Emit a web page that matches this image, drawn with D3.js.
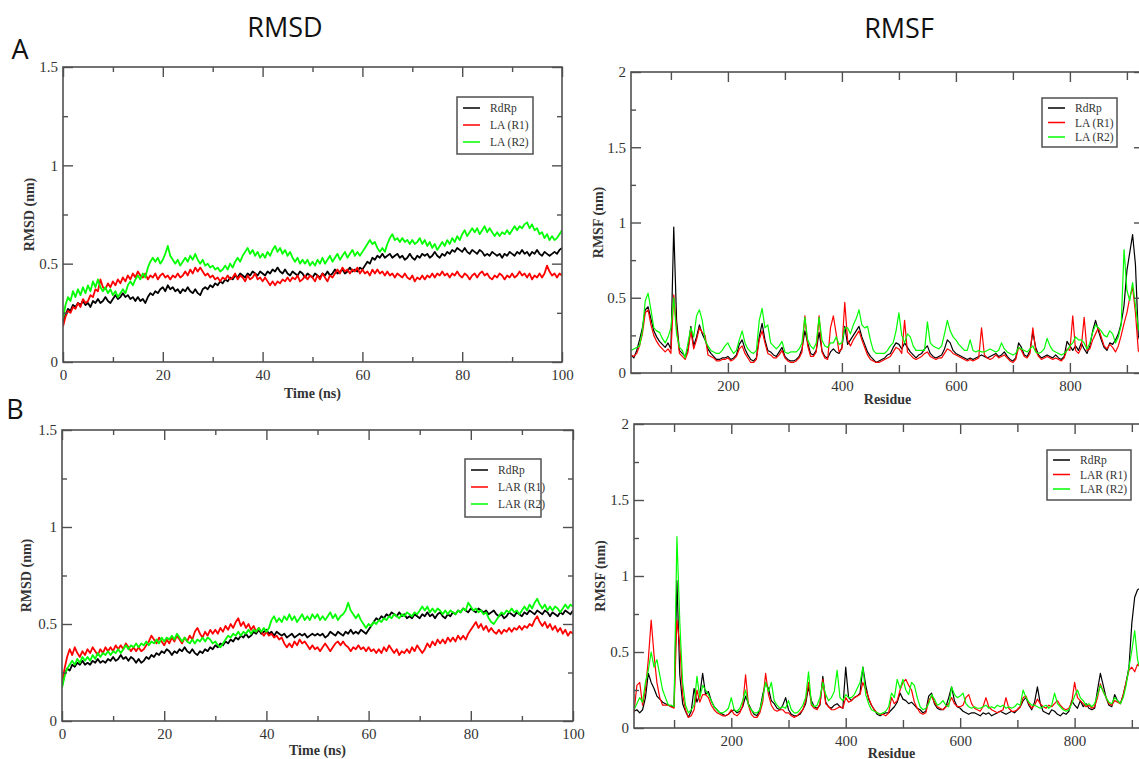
<!DOCTYPE html>
<html>
<head>
<meta charset="utf-8">
<style>
  body { margin: 0; background: #ffffff; }
  svg { display: block; }
</style>
</head>
<body>
<script src="https://d3js.org/d3.v7.min.js"></script>
<script>
// ---------- data ----------
// RMSD: one value every 0.5 ns, 0..100 ns
const TIME_START = 0;
const TIME_STEP = 0.5;

const RMSD_A_RDRP = [
  0.20,0.24,0.27,0.26,0.29,0.28,0.30,0.29,0.31,0.29,
  0.30,0.28,0.31,0.30,0.32,0.30,0.31,0.33,0.31,0.30,
  0.32,0.34,0.32,0.33,0.35,0.33,0.34,0.32,0.33,0.31,
  0.33,0.31,0.32,0.30,0.33,0.35,0.34,0.36,0.35,0.37,
  0.38,0.36,0.39,0.37,0.38,0.36,0.37,0.35,0.37,0.36,
  0.38,0.36,0.35,0.37,0.35,0.34,0.37,0.38,0.37,0.39,
  0.38,0.40,0.39,0.41,0.40,0.42,0.41,0.43,0.42,0.44,
  0.43,0.45,0.44,0.43,0.45,0.44,0.46,0.45,0.44,0.46,
  0.45,0.44,0.46,0.45,0.47,0.46,0.48,0.46,0.45,0.47,
  0.45,0.44,0.46,0.45,0.44,0.46,0.45,0.43,0.45,0.44,
  0.43,0.45,0.44,0.43,0.45,0.44,0.46,0.44,0.45,0.47,
  0.45,0.46,0.47,0.45,0.46,0.48,0.46,0.47,0.46,0.48,
  0.47,0.49,0.51,0.50,0.53,0.52,0.54,0.53,0.55,0.53,
  0.54,0.55,0.53,0.54,0.55,0.53,0.54,0.52,0.53,0.55,
  0.53,0.52,0.54,0.53,0.55,0.54,0.55,0.53,0.54,0.56,
  0.54,0.53,0.55,0.54,0.56,0.55,0.57,0.56,0.58,0.57,
  0.56,0.58,0.56,0.55,0.57,0.56,0.55,0.57,0.56,0.54,
  0.55,0.54,0.56,0.55,0.54,0.55,0.53,0.55,0.54,0.56,
  0.55,0.54,0.56,0.55,0.57,0.55,0.56,0.54,0.56,0.55,
  0.57,0.55,0.54,0.56,0.55,0.54,0.55,0.56,0.55,0.57,
  0.58];
const RMSD_A_LA_R1 = [
  0.18,0.23,0.26,0.25,0.28,0.27,0.30,0.28,0.32,0.30,
  0.31,0.34,0.33,0.37,0.36,0.42,0.38,0.37,0.40,0.38,
  0.41,0.39,0.42,0.40,0.43,0.41,0.44,0.42,0.45,0.43,
  0.46,0.44,0.43,0.45,0.42,0.44,0.43,0.45,0.42,0.44,
  0.45,0.43,0.44,0.42,0.44,0.43,0.45,0.43,0.44,0.46,
  0.44,0.47,0.45,0.48,0.46,0.48,0.46,0.44,0.45,0.43,
  0.44,0.42,0.43,0.41,0.43,0.42,0.44,0.42,0.43,0.45,
  0.42,0.44,0.43,0.41,0.44,0.42,0.43,0.45,0.42,0.43,
  0.41,0.43,0.41,0.39,0.41,0.39,0.41,0.40,0.42,0.41,
  0.43,0.41,0.43,0.42,0.44,0.41,0.42,0.44,0.42,0.44,
  0.43,0.41,0.44,0.42,0.45,0.43,0.41,0.44,0.43,0.45,
  0.47,0.45,0.48,0.46,0.47,0.45,0.47,0.46,0.48,0.45,
  0.47,0.45,0.46,0.44,0.47,0.45,0.47,0.45,0.46,0.44,
  0.46,0.44,0.45,0.43,0.45,0.44,0.43,0.45,0.43,0.42,
  0.44,0.41,0.43,0.42,0.44,0.42,0.44,0.43,0.45,0.43,
  0.45,0.44,0.46,0.44,0.45,0.43,0.45,0.44,0.46,0.44,
  0.43,0.45,0.44,0.42,0.44,0.45,0.43,0.45,0.46,0.44,
  0.45,0.43,0.42,0.44,0.43,0.45,0.44,0.42,0.44,0.43,
  0.45,0.43,0.44,0.46,0.44,0.45,0.43,0.45,0.42,0.44,
  0.43,0.45,0.43,0.45,0.49,0.46,0.44,0.45,0.43,0.45,
  0.44];
const RMSD_A_LA_R2 = [
  0.22,0.29,0.33,0.31,0.36,0.33,0.37,0.34,0.38,0.35,
  0.39,0.36,0.41,0.38,0.42,0.38,0.36,0.38,0.35,0.37,
  0.34,0.36,0.33,0.35,0.37,0.35,0.39,0.41,0.39,0.42,
  0.44,0.42,0.45,0.43,0.48,0.51,0.53,0.51,0.53,0.50,
  0.52,0.55,0.59,0.54,0.52,0.50,0.52,0.49,0.51,0.53,
  0.51,0.54,0.52,0.55,0.52,0.50,0.52,0.49,0.50,0.48,
  0.49,0.47,0.48,0.46,0.47,0.49,0.47,0.50,0.48,0.51,
  0.53,0.51,0.54,0.56,0.58,0.55,0.57,0.54,0.56,0.53,
  0.55,0.53,0.56,0.54,0.57,0.59,0.56,0.58,0.55,0.57,
  0.54,0.56,0.53,0.51,0.53,0.50,0.52,0.50,0.52,0.49,
  0.51,0.49,0.52,0.50,0.53,0.50,0.52,0.54,0.51,0.53,
  0.55,0.52,0.54,0.56,0.53,0.55,0.57,0.54,0.56,0.54,
  0.56,0.58,0.60,0.62,0.60,0.61,0.58,0.56,0.58,0.56,
  0.60,0.63,0.65,0.62,0.63,0.61,0.63,0.61,0.62,0.60,
  0.62,0.60,0.61,0.63,0.60,0.62,0.59,0.61,0.58,0.60,
  0.57,0.59,0.61,0.59,0.62,0.60,0.63,0.61,0.64,0.62,
  0.65,0.67,0.64,0.66,0.68,0.66,0.68,0.65,0.67,0.69,
  0.66,0.68,0.66,0.64,0.66,0.64,0.66,0.65,0.67,0.65,
  0.67,0.69,0.67,0.69,0.68,0.70,0.71,0.68,0.70,0.67,
  0.68,0.65,0.66,0.63,0.65,0.62,0.64,0.62,0.63,0.65,
  0.67];

const RMSD_B_RDRP = [
  0.18,0.24,0.27,0.26,0.29,0.28,0.30,0.29,0.31,0.29,
  0.30,0.29,0.31,0.30,0.32,0.30,0.31,0.30,0.32,0.31,
  0.33,0.31,0.32,0.34,0.32,0.33,0.31,0.33,0.32,0.30,
  0.32,0.30,0.31,0.33,0.32,0.34,0.33,0.35,0.34,0.36,
  0.35,0.37,0.36,0.34,0.36,0.35,0.37,0.36,0.38,0.36,
  0.35,0.37,0.35,0.34,0.36,0.35,0.37,0.36,0.38,0.37,
  0.39,0.38,0.40,0.39,0.41,0.40,0.42,0.41,0.43,0.42,
  0.44,0.43,0.45,0.43,0.44,0.46,0.45,0.47,0.45,0.46,
  0.47,0.45,0.46,0.44,0.46,0.45,0.44,0.45,0.43,0.44,
  0.45,0.43,0.44,0.45,0.44,0.45,0.43,0.44,0.45,0.44,
  0.45,0.44,0.45,0.43,0.44,0.46,0.45,0.44,0.46,0.45,
  0.44,0.46,0.45,0.47,0.45,0.46,0.45,0.47,0.46,0.45,
  0.47,0.49,0.51,0.53,0.52,0.54,0.53,0.55,0.54,0.56,
  0.55,0.54,0.56,0.54,0.55,0.53,0.54,0.53,0.55,0.54,
  0.53,0.55,0.54,0.56,0.54,0.55,0.53,0.55,0.56,0.54,
  0.53,0.55,0.54,0.56,0.55,0.57,0.56,0.58,0.57,0.56,
  0.58,0.57,0.56,0.58,0.57,0.56,0.57,0.55,0.56,0.57,
  0.55,0.54,0.55,0.53,0.54,0.56,0.55,0.54,0.56,0.55,
  0.54,0.56,0.55,0.57,0.56,0.55,0.57,0.56,0.55,0.57,
  0.56,0.54,0.56,0.55,0.54,0.56,0.55,0.57,0.56,0.55,
  0.57];
const RMSD_B_LAR_R1 = [
  0.20,0.27,0.33,0.37,0.34,0.38,0.35,0.33,0.36,0.34,
  0.37,0.35,0.38,0.36,0.34,0.37,0.35,0.38,0.36,0.38,
  0.36,0.39,0.37,0.39,0.37,0.40,0.38,0.36,0.38,0.36,
  0.38,0.36,0.37,0.39,0.41,0.44,0.42,0.40,0.43,0.41,
  0.39,0.42,0.40,0.43,0.41,0.44,0.42,0.40,0.43,0.41,
  0.44,0.42,0.46,0.48,0.45,0.43,0.46,0.44,0.47,0.45,
  0.47,0.45,0.48,0.46,0.49,0.47,0.50,0.48,0.51,0.53,
  0.49,0.51,0.48,0.50,0.47,0.49,0.46,0.48,0.46,0.44,
  0.46,0.44,0.45,0.43,0.44,0.42,0.43,0.40,0.38,0.40,
  0.38,0.41,0.39,0.42,0.40,0.41,0.39,0.37,0.39,0.37,
  0.38,0.36,0.38,0.40,0.38,0.36,0.38,0.40,0.41,0.39,
  0.41,0.39,0.38,0.36,0.38,0.37,0.39,0.37,0.38,0.36,
  0.38,0.36,0.37,0.35,0.37,0.35,0.38,0.36,0.39,0.37,
  0.35,0.37,0.34,0.36,0.35,0.37,0.35,0.38,0.36,0.39,
  0.37,0.35,0.37,0.40,0.38,0.41,0.39,0.42,0.40,0.42,
  0.40,0.43,0.41,0.43,0.41,0.44,0.42,0.44,0.42,0.45,
  0.47,0.49,0.51,0.48,0.50,0.47,0.49,0.46,0.48,0.46,
  0.45,0.47,0.45,0.47,0.46,0.48,0.46,0.48,0.47,0.49,
  0.47,0.49,0.48,0.50,0.49,0.52,0.54,0.51,0.49,0.51,
  0.48,0.50,0.47,0.49,0.46,0.48,0.45,0.47,0.44,0.46,
  0.45];
const RMSD_B_LAR_R2 = [
  0.17,0.23,0.27,0.29,0.31,0.29,0.32,0.30,0.33,0.31,
  0.33,0.31,0.34,0.32,0.35,0.33,0.35,0.34,0.36,0.34,
  0.36,0.35,0.37,0.35,0.37,0.39,0.37,0.39,0.38,0.40,
  0.38,0.40,0.39,0.41,0.39,0.41,0.40,0.42,0.40,0.43,
  0.41,0.43,0.42,0.44,0.42,0.45,0.43,0.41,0.43,0.41,
  0.40,0.42,0.40,0.42,0.41,0.43,0.41,0.43,0.42,0.40,
  0.41,0.39,0.38,0.40,0.42,0.44,0.43,0.45,0.44,0.46,
  0.44,0.46,0.45,0.47,0.45,0.47,0.46,0.48,0.46,0.48,
  0.46,0.48,0.52,0.54,0.51,0.53,0.51,0.54,0.52,0.55,
  0.52,0.54,0.51,0.53,0.55,0.52,0.54,0.52,0.55,0.53,
  0.55,0.52,0.54,0.52,0.54,0.56,0.53,0.55,0.52,0.54,
  0.55,0.57,0.61,0.57,0.55,0.53,0.55,0.52,0.50,0.48,
  0.50,0.49,0.51,0.50,0.52,0.51,0.53,0.52,0.54,0.53,
  0.55,0.54,0.53,0.55,0.54,0.56,0.55,0.54,0.56,0.55,
  0.57,0.59,0.57,0.59,0.56,0.58,0.56,0.58,0.57,0.55,
  0.57,0.55,0.57,0.56,0.55,0.57,0.56,0.58,0.57,0.61,
  0.59,0.57,0.58,0.56,0.57,0.55,0.56,0.53,0.51,0.50,
  0.52,0.54,0.56,0.55,0.57,0.56,0.58,0.56,0.57,0.55,
  0.57,0.59,0.57,0.60,0.58,0.61,0.63,0.60,0.58,0.60,
  0.57,0.59,0.57,0.59,0.58,0.56,0.58,0.60,0.58,0.60,
  0.59];

// RMSF: one value every 5 residues, residue 30..930
const RESIDUE_START = 30;
const RESIDUE_STEP = 5;

const RMSF_A_RDRP = [
  0.12,0.10,0.15,0.22,0.30,0.42,0.44,0.36,0.28,0.24,
  0.21,0.19,0.17,0.20,0.16,0.97,0.35,0.15,0.13,0.11,
  0.16,0.31,0.18,0.24,0.32,0.26,0.22,0.16,0.13,0.11,
  0.09,0.09,0.10,0.10,0.11,0.09,0.10,0.12,0.19,0.22,
  0.16,0.12,0.09,0.08,0.10,0.24,0.33,0.22,0.15,0.14,
  0.12,0.11,0.14,0.17,0.11,0.09,0.08,0.08,0.09,0.11,
  0.16,0.28,0.20,0.13,0.12,0.15,0.27,0.15,0.11,0.10,
  0.14,0.16,0.14,0.13,0.17,0.31,0.19,0.22,0.25,0.28,
  0.31,0.24,0.19,0.14,0.11,0.09,0.07,0.08,0.09,0.10,
  0.12,0.13,0.17,0.20,0.19,0.16,0.20,0.17,0.14,0.12,
  0.10,0.12,0.13,0.16,0.18,0.13,0.11,0.10,0.11,0.12,
  0.16,0.22,0.20,0.15,0.13,0.12,0.11,0.10,0.09,0.10,
  0.09,0.10,0.11,0.12,0.11,0.10,0.11,0.12,0.13,0.11,
  0.12,0.14,0.11,0.09,0.08,0.10,0.20,0.17,0.12,0.11,
  0.15,0.27,0.17,0.12,0.10,0.11,0.12,0.11,0.10,0.12,
  0.10,0.09,0.11,0.21,0.18,0.15,0.18,0.15,0.20,0.16,
  0.13,0.18,0.28,0.35,0.28,0.22,0.17,0.15,0.20,0.19,
  0.22,0.26,0.33,0.45,0.68,0.80,0.92,0.72,0.25,0.18,
  0.15];
const RMSF_A_LA_R1 = [
  0.12,0.11,0.13,0.18,0.26,0.40,0.42,0.32,0.25,0.21,
  0.18,0.16,0.14,0.16,0.13,0.52,0.30,0.13,0.11,0.09,
  0.14,0.28,0.16,0.22,0.30,0.27,0.25,0.12,0.11,0.10,
  0.08,0.08,0.09,0.09,0.10,0.08,0.09,0.11,0.16,0.18,
  0.13,0.10,0.07,0.07,0.09,0.22,0.28,0.20,0.13,0.12,
  0.10,0.10,0.12,0.15,0.10,0.08,0.07,0.07,0.08,0.10,
  0.14,0.38,0.18,0.11,0.11,0.14,0.38,0.14,0.10,0.09,
  0.30,0.38,0.26,0.14,0.16,0.47,0.22,0.18,0.22,0.25,
  0.28,0.22,0.17,0.12,0.09,0.08,0.07,0.07,0.08,0.09,
  0.10,0.11,0.14,0.17,0.16,0.13,0.35,0.14,0.12,0.10,
  0.09,0.10,0.11,0.13,0.14,0.11,0.10,0.09,0.10,0.10,
  0.13,0.16,0.15,0.13,0.12,0.11,0.10,0.09,0.08,0.09,
  0.08,0.09,0.10,0.30,0.12,0.10,0.09,0.10,0.12,0.10,
  0.11,0.12,0.10,0.08,0.07,0.09,0.17,0.15,0.11,0.10,
  0.13,0.30,0.15,0.11,0.09,0.10,0.11,0.10,0.09,0.10,
  0.09,0.08,0.10,0.16,0.15,0.38,0.15,0.13,0.17,0.37,
  0.15,0.16,0.22,0.26,0.30,0.24,0.18,0.16,0.19,0.17,
  0.14,0.18,0.25,0.33,0.40,0.50,0.57,0.40,0.15,0.12,
  0.11];
const RMSF_A_LA_R2 = [
  0.15,0.16,0.17,0.18,0.28,0.48,0.53,0.42,0.30,0.28,
  0.27,0.23,0.20,0.24,0.30,0.50,0.26,0.17,0.15,0.10,
  0.20,0.30,0.24,0.38,0.42,0.35,0.22,0.18,0.15,0.14,
  0.13,0.13,0.15,0.18,0.20,0.16,0.13,0.15,0.22,0.28,
  0.20,0.16,0.14,0.13,0.15,0.35,0.43,0.30,0.32,0.20,
  0.18,0.16,0.18,0.21,0.14,0.13,0.14,0.14,0.14,0.16,
  0.20,0.37,0.22,0.18,0.16,0.20,0.37,0.22,0.18,0.17,
  0.20,0.20,0.24,0.19,0.20,0.30,0.30,0.26,0.32,0.36,
  0.42,0.32,0.30,0.31,0.22,0.15,0.13,0.13,0.13,0.13,
  0.15,0.18,0.20,0.28,0.40,0.25,0.20,0.26,0.24,0.18,
  0.15,0.15,0.15,0.15,0.34,0.20,0.18,0.17,0.16,0.18,
  0.26,0.35,0.28,0.24,0.22,0.19,0.17,0.15,0.15,0.22,
  0.15,0.14,0.15,0.14,0.14,0.15,0.16,0.15,0.14,0.15,
  0.20,0.16,0.14,0.13,0.12,0.13,0.17,0.16,0.15,0.14,
  0.16,0.18,0.14,0.13,0.14,0.16,0.23,0.18,0.15,0.14,
  0.13,0.12,0.13,0.15,0.18,0.20,0.24,0.22,0.22,0.20,
  0.16,0.20,0.27,0.32,0.30,0.28,0.25,0.24,0.28,0.26,
  0.20,0.24,0.32,0.82,0.55,0.48,0.60,0.45,0.30,0.25,
  0.20];

const RMSF_B_RDRP = [
  0.11,0.12,0.10,0.12,0.20,0.36,0.30,0.26,0.21,0.19,
  0.17,0.16,0.15,0.14,0.14,0.97,0.35,0.16,0.11,0.07,
  0.11,0.26,0.17,0.22,0.36,0.22,0.24,0.18,0.14,0.12,
  0.10,0.09,0.08,0.09,0.11,0.12,0.10,0.11,0.14,0.21,
  0.16,0.12,0.09,0.08,0.12,0.22,0.30,0.26,0.18,0.16,
  0.13,0.12,0.15,0.20,0.12,0.09,0.08,0.08,0.09,0.12,
  0.16,0.27,0.18,0.14,0.13,0.15,0.34,0.17,0.14,0.13,
  0.15,0.16,0.14,0.13,0.40,0.20,0.18,0.20,0.21,0.23,
  0.40,0.28,0.19,0.15,0.12,0.09,0.08,0.09,0.10,0.10,
  0.12,0.14,0.17,0.23,0.19,0.18,0.16,0.17,0.15,0.13,
  0.12,0.10,0.11,0.21,0.23,0.16,0.13,0.12,0.12,0.14,
  0.20,0.27,0.18,0.14,0.13,0.11,0.10,0.09,0.10,0.10,
  0.09,0.08,0.10,0.09,0.10,0.08,0.09,0.10,0.11,0.10,
  0.09,0.10,0.11,0.10,0.12,0.14,0.18,0.20,0.15,0.12,
  0.17,0.27,0.16,0.11,0.10,0.09,0.12,0.11,0.09,0.08,
  0.10,0.09,0.11,0.18,0.15,0.13,0.18,0.14,0.16,0.13,
  0.12,0.13,0.25,0.36,0.28,0.20,0.15,0.14,0.22,0.18,
  0.16,0.22,0.30,0.40,0.69,0.86,0.91,0.92,0.85,0.60,
  0.40];
const RMSF_B_LAR_R1 = [
  0.10,0.28,0.30,0.15,0.25,0.45,0.71,0.48,0.30,0.20,
  0.15,0.15,0.15,0.14,0.13,0.71,0.55,0.22,0.12,0.07,
  0.08,0.12,0.25,0.17,0.22,0.22,0.20,0.15,0.12,0.10,
  0.09,0.08,0.08,0.09,0.12,0.09,0.08,0.10,0.15,0.35,
  0.15,0.09,0.07,0.07,0.10,0.17,0.36,0.22,0.15,0.12,
  0.11,0.12,0.12,0.10,0.10,0.08,0.07,0.08,0.10,0.12,
  0.18,0.30,0.15,0.13,0.12,0.16,0.32,0.16,0.14,0.12,
  0.12,0.13,0.14,0.13,0.20,0.17,0.18,0.20,0.21,0.22,
  0.30,0.25,0.20,0.15,0.12,0.10,0.09,0.09,0.08,0.10,
  0.20,0.16,0.18,0.25,0.30,0.32,0.28,0.25,0.17,0.13,
  0.10,0.09,0.10,0.18,0.21,0.17,0.14,0.13,0.12,0.14,
  0.16,0.20,0.16,0.14,0.14,0.15,0.20,0.22,0.16,0.13,
  0.12,0.11,0.14,0.20,0.14,0.12,0.11,0.10,0.11,0.12,
  0.20,0.13,0.11,0.11,0.12,0.14,0.20,0.21,0.16,0.13,
  0.15,0.19,0.16,0.14,0.13,0.15,0.14,0.16,0.18,0.15,
  0.13,0.12,0.13,0.17,0.30,0.20,0.18,0.16,0.14,0.15,
  0.13,0.14,0.20,0.29,0.24,0.20,0.16,0.15,0.18,0.17,
  0.16,0.22,0.30,0.38,0.40,0.37,0.42,0.40,0.30,0.25,
  0.20];
const RMSF_B_LAR_R2 = [
  0.12,0.16,0.20,0.17,0.30,0.38,0.50,0.40,0.45,0.35,
  0.25,0.20,0.15,0.15,0.14,1.26,0.70,0.30,0.15,0.10,
  0.12,0.15,0.34,0.20,0.28,0.25,0.22,0.18,0.14,0.12,
  0.10,0.10,0.11,0.13,0.20,0.12,0.11,0.13,0.18,0.25,
  0.15,0.12,0.10,0.10,0.12,0.20,0.30,0.24,0.30,0.18,
  0.15,0.13,0.14,0.13,0.18,0.12,0.10,0.10,0.12,0.15,
  0.20,0.37,0.16,0.14,0.15,0.20,0.30,0.22,0.18,0.20,
  0.24,0.38,0.20,0.18,0.22,0.20,0.20,0.22,0.26,0.30,
  0.40,0.22,0.16,0.12,0.11,0.10,0.09,0.10,0.11,0.14,
  0.23,0.20,0.32,0.26,0.32,0.25,0.22,0.30,0.28,0.20,
  0.14,0.12,0.13,0.16,0.22,0.19,0.15,0.16,0.18,0.15,
  0.14,0.27,0.22,0.20,0.21,0.23,0.16,0.14,0.13,0.14,
  0.13,0.13,0.14,0.15,0.13,0.14,0.13,0.15,0.14,0.15,
  0.13,0.14,0.13,0.14,0.16,0.15,0.25,0.20,0.17,0.15,
  0.15,0.14,0.13,0.14,0.15,0.13,0.15,0.23,0.16,0.14,
  0.12,0.11,0.12,0.16,0.21,0.25,0.20,0.18,0.15,0.16,
  0.14,0.16,0.22,0.28,0.24,0.20,0.17,0.16,0.20,0.18,
  0.16,0.20,0.28,0.40,0.51,0.64,0.45,0.38,0.32,0.28,
  0.25];

const LEGEND_A = ['RdRp', 'LA (R1)', 'LA (R2)'];
const LEGEND_B = ['RdRp', 'LAR (R1)', 'LAR (R2)'];

const RMSD_X_TICKS = [0, 20, 40, 60, 80, 100];
const RMSD_X_MINOR = [10, 30, 50, 70, 90];
const RMSD_Y_TICKS = [0, 0.5, 1, 1.5];
const RMSD_Y_MINOR = [0.25, 0.75, 1.25];
const RMSF_X_TICKS = [200, 400, 600, 800];
const RMSF_X_MINOR = [100, 300, 500, 700, 900];
const RMSF_Y_TICKS = [0, 0.5, 1, 1.5, 2];
const RMSF_Y_MINOR = [0.25, 0.75, 1.25, 1.75];

// ---------- drawing ----------
const WIDTH = 1139, HEIGHT = 759;
const COLORS = ['#000000', '#ff0000', '#00ff00'];
const AXIS_COLOR = '#505050';
const SERIF = '"Liberation Serif", "DejaVu Serif", serif';
const SANS = '"Open Sans", "Noto Sans", sans-serif';

const svg = d3.select('body').append('svg')
  .attr('width', WIDTH)
  .attr('height', HEIGHT);

function drawPanel(p) {
  const x = d3.scaleLinear().domain(p.xDomain).range([p.left, p.right]);
  const y = d3.scaleLinear().domain(p.yDomain).range([p.bottom, p.top]);

  svg.append('clipPath').attr('id', 'clip-' + p.id)
    .append('rect')
    .attr('x', p.left).attr('y', p.top)
    .attr('width', p.right - p.left).attr('height', p.bottom - p.top);

  // series: black first, green on top
  const line = d3.line().x(d => x(d[0])).y(d => y(d[1]));
  const lines = svg.append('g').attr('clip-path', `url(#clip-${p.id})`);
  p.series.forEach((vals, k) => {
    const pts = vals.map((v, i) => [p.x0 + i * p.step, v]);
    lines.append('path')
      .datum(pts)
      .attr('fill', 'none')
      .attr('stroke', COLORS[k])
      .attr('stroke-width', p.lineWidth)
      .attr('stroke-linejoin', 'round')
      .attr('d', line);
  });

  // ticks point inward on all four sides
  const fmt = d => String(d);
  const addAxis = (axis, tx, ty, labels) => {
    const g = svg.append('g')
      .attr('transform', `translate(${tx},${ty})`)
      .call(axis);
    g.select('.domain').remove();
    g.selectAll('line').attr('stroke', AXIS_COLOR).attr('stroke-width', 1.4);
    g.selectAll('text')
      .attr('font-family', SERIF)
      .attr('font-size', 15)
      .attr('fill', '#333');
    if (!labels) g.selectAll('text').remove();
    return g;
  };

  addAxis(d3.axisBottom(x).tickValues(p.xTicks).tickSize(-10).tickPadding(7).tickFormat(fmt), 0, p.bottom, true);
  addAxis(d3.axisBottom(x).tickValues(p.xMinor).tickSize(-p.xMinorLen), 0, p.bottom, false);
  addAxis(d3.axisTop(x).tickValues(p.xTicks).tickSize(-10), 0, p.top, false);
  addAxis(d3.axisTop(x).tickValues(p.xMinor).tickSize(-p.xMinorLen), 0, p.top, false);
  addAxis(d3.axisLeft(y).tickValues(p.yTicks).tickSize(-10).tickPadding(5).tickFormat(fmt), p.left, 0, true);
  addAxis(d3.axisLeft(y).tickValues(p.yMinor).tickSize(-5), p.left, 0, false);
  addAxis(d3.axisRight(y).tickValues(p.yTicks).tickSize(-10), p.right, 0, false);
  addAxis(d3.axisRight(y).tickValues(p.yMinor).tickSize(-5), p.right, 0, false);

  // frame
  svg.append('rect')
    .attr('x', p.left).attr('y', p.top)
    .attr('width', p.right - p.left).attr('height', p.bottom - p.top)
    .attr('fill', 'none')
    .attr('stroke', AXIS_COLOR)
    .attr('stroke-width', 1.6);

  // axis titles
  svg.append('text')
    .attr('x', (p.left + p.right) / 2)
    .attr('y', p.bottom + p.xTitleOffset)
    .attr('text-anchor', 'middle')
    .attr('dominant-baseline', 'central')
    .attr('font-family', SERIF)
    .attr('font-weight', 'bold')
    .attr('font-size', 14)
    .attr('fill', '#333')
    .text(p.xTitle);

  const ymid = (p.top + p.bottom) / 2;
  svg.append('text')
    .attr('transform', `translate(${p.left - p.yTitleOffset},${ymid}) rotate(-90)`)
    .attr('text-anchor', 'middle')
    .attr('dominant-baseline', 'central')
    .attr('font-family', SERIF)
    .attr('font-weight', 'bold')
    .attr('font-size', 14)
    .attr('fill', '#333')
    .text(p.yTitle);

  // legend
  const L = p.legend;
  svg.append('rect')
    .attr('x', L.x).attr('y', L.y)
    .attr('width', L.w).attr('height', L.h)
    .attr('fill', '#fff')
    .attr('stroke', AXIS_COLOR)
    .attr('stroke-width', 1.5);
  p.names.forEach((name, k) => {
    const cy = L.y + L.first + k * L.gap;
    svg.append('line')
      .attr('x1', L.x + 6).attr('x2', L.x + 23)
      .attr('y1', cy).attr('y2', cy)
      .attr('stroke', COLORS[k])
      .attr('stroke-width', 1.5);
    svg.append('text')
      .attr('x', L.x + 33).attr('y', cy)
      .attr('dominant-baseline', 'central')
      .attr('font-family', SERIF)
      .attr('font-size', 11.5)
      .attr('fill', '#333')
      .text(name);
  });
}

const rmsdCommon = {
  xDomain: [0, 100], yDomain: [0, 1.5],
  x0: TIME_START, step: TIME_STEP,
  xTicks: RMSD_X_TICKS, xMinor: RMSD_X_MINOR, xMinorLen: 5,
  yTicks: RMSD_Y_TICKS, yMinor: RMSD_Y_MINOR,
  xTitle: 'Time (ns)', yTitle: 'RMSD (nm)',
  lineWidth: 1.8
};
const rmsfCommon = {
  xDomain: [30, 930], yDomain: [0, 2],
  x0: RESIDUE_START, step: RESIDUE_STEP,
  xTicks: RMSF_X_TICKS, xMinor: RMSF_X_MINOR, xMinorLen: 8,
  yTicks: RMSF_Y_TICKS, yMinor: RMSF_Y_MINOR,
  xTitle: 'Residue', yTitle: 'RMSF (nm)',
  lineWidth: 1.2
};

drawPanel(Object.assign({}, rmsdCommon, {
  id: 'a-rmsd', left: 63, right: 562, top: 67, bottom: 362,
  series: [RMSD_A_RDRP, RMSD_A_LA_R1, RMSD_A_LA_R2], names: LEGEND_A,
  xTitleOffset: 31, yTitleOffset: 34,
  legend: { x: 457, y: 97, w: 76, h: 57, first: 11, gap: 17 }
}));
drawPanel(Object.assign({}, rmsdCommon, {
  id: 'b-rmsd', left: 62, right: 573, top: 430, bottom: 721,
  series: [RMSD_B_RDRP, RMSD_B_LAR_R1, RMSD_B_LAR_R2], names: LEGEND_B,
  xTitleOffset: 29, yTitleOffset: 36,
  legend: { x: 465, y: 459, w: 76, h: 58, first: 11, gap: 17 }
}));
drawPanel(Object.assign({}, rmsfCommon, {
  id: 'a-rmsf', left: 631, right: 1144, top: 72, bottom: 373,
  series: [RMSF_A_RDRP, RMSF_A_LA_R1, RMSF_A_LA_R2], names: LEGEND_A,
  xTitleOffset: 26, yTitleOffset: 33,
  legend: { x: 1042, y: 98, w: 75, h: 49, first: 10, gap: 14.5 }
}));
drawPanel(Object.assign({}, rmsfCommon, {
  id: 'b-rmsf', left: 634, right: 1149, top: 424, bottom: 728,
  series: [RMSF_B_RDRP, RMSF_B_LAR_R1, RMSF_B_LAR_R2], names: LEGEND_B,
  xTitleOffset: 25, yTitleOffset: 34,
  legend: { x: 1047, y: 450, w: 84, h: 50, first: 10, gap: 14.5 }
}));

// column titles and panel letters
const bigText = (txt, x, y) => svg.append('text')
  .attr('x', x).attr('y', y)
  .attr('text-anchor', 'middle')
  .attr('dominant-baseline', 'central')
  .attr('font-family', SANS)
  .attr('font-size', 27)
  .attr('fill', '#111')
  .text(txt);
bigText('RMSD', 285, 26);
bigText('RMSF', 899, 27);
bigText('A', 20, 48);
bigText('B', 15, 408);
</script>
</body>
</html>
